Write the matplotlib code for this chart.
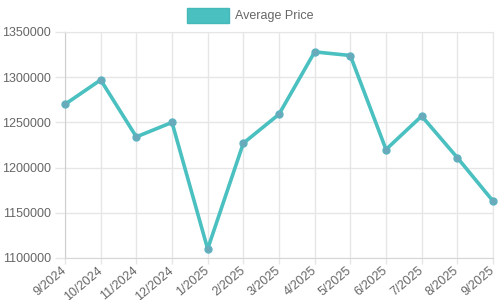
import matplotlib
matplotlib.use("Agg")
import matplotlib.pyplot as plt
from matplotlib.patches import Rectangle

months = ["9/2024", "10/2024", "11/2024", "12/2024", "1/2025", "2/2025", "3/2025",
          "4/2025", "5/2025", "6/2025", "7/2025", "8/2025", "9/2025"]
avg_price = [1270000, 1297000, 1234000, 1250000, 1110000, 1227000, 1259000,
             1328000, 1324000, 1220000, 1257000, 1211000, 1163000]
y_ticks = [1100000, 1150000, 1200000, 1250000, 1300000, 1350000]
series_label = "Average Price"

plt.rcParams['font.family'] = ['Liberation Sans', 'DejaVu Sans']
teal = "#4BC0C0"
txt = "#666666"
grid = "#e6e6e6"

fig = plt.figure(figsize=(5, 3), dpi=100)
ax = fig.add_axes([65/500, 1 - 258/300, (493 - 65)/500, (258 - 32)/300])

x = list(range(len(months)))
ax.plot(x, avg_price, color=teal, linewidth=2.6, marker='o', markersize=5,
        markerfacecolor="#6aa9b9", markeredgecolor="#5cb3c0", markeredgewidth=1,
        zorder=3, clip_on=False)

ax.set_xlim(0, len(months) - 1)
ax.set_ylim(y_ticks[0], y_ticks[-1])
ax.set_yticks(y_ticks)
ax.set_yticklabels([str(v) for v in y_ticks])
ax.set_xticks(x)
ax.set_xticklabels(months, rotation=40, ha='right', va='center', rotation_mode='anchor')

ax.grid(True, color=grid, linewidth=1)
ax.set_axisbelow(True)
for s in ['top', 'right']:
    ax.spines[s].set_color(grid)
ax.spines['left'].set_color("#cfcfcf")
ax.spines['bottom'].set_color("#d6d6d6")
ax.tick_params(axis='both', colors=grid, labelcolor=txt, labelsize=9, width=1)
ax.tick_params(axis='y', length=7, pad=3)
ax.tick_params(axis='x', length=4, pad=4)

# legend
fig.add_artist(Rectangle((187/500, 1 - 23/300), 42/500, 15/300, transform=fig.transFigure,
                         facecolor=teal, edgecolor="#45b8b8", linewidth=1))
fig.text(235/500, 1 - 16/300, series_label, color=txt, fontsize=9, va='center', ha='left')

fig.savefig("out.png", dpi=100)
